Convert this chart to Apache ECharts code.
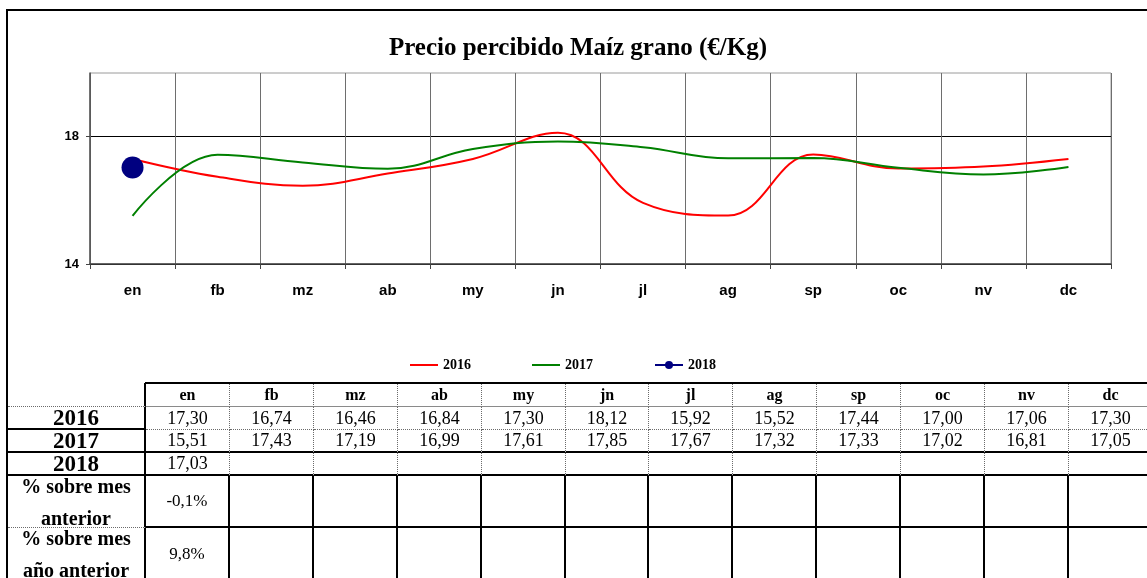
<!DOCTYPE html>
<html>
<head>
<meta charset="utf-8">
<title>Precio percibido Maíz grano</title>
<script src="https://cdn.jsdelivr.net/npm/echarts@6/dist/echarts.min.js"></script>
<style>
  html, body { margin: 0; padding: 0; background: #fff; }
  #wrap { position: relative; width: 1147px; height: 578px; overflow: hidden; background: #fff; }
  #chart { position: absolute; left: 0; top: 0; width: 1147px; height: 578px; }
  #frame { position: absolute; left: 6px; top: 9px; right: -10px; bottom: -10px;
           border-left: 2px solid #000; border-top: 2px solid #000; pointer-events: none; }
  .cell { position: absolute; box-sizing: border-box; display: flex; flex-direction: column;
          align-items: center; justify-content: center; color: #000; white-space: nowrap;
          text-align: center; font-family: 'Liberation Serif', 'Times New Roman', serif; }
</style>
</head>
<body>
<div id="wrap">
  <div id="chart"></div>
  <div id="tabla"></div>
  <div id="frame"></div>
</div>
<script>
// Meses y precios (€/Kg)
const meses = ['en', 'fb', 'mz', 'ab', 'my', 'jn', 'jl', 'ag', 'sp', 'oc', 'nv', 'dc'];
const precio2016 = [17.30, 16.74, 16.46, 16.84, 17.30, 18.12, 15.92, 15.52, 17.44, 17.00, 17.06, 17.30];
const precio2017 = [15.51, 17.43, 17.19, 16.99, 17.61, 17.85, 17.67, 17.32, 17.33, 17.02, 16.81, 17.05];
const precio2018 = [17.03];
const ejeYMarcas = [14, 18];

const fmt = (v, d) => v.toFixed(d).replace('.', ',');

// Variaciones del último mes de 2018
const n = precio2018.length - 1;
const previo = n === 0 ? precio2017[precio2017.length - 1] : precio2018[n - 1];
const pctMes = [];
const pctAnio = [];
pctMes[n] = fmt((precio2018[n] / previo - 1) * 100, 1) + '%';
pctAnio[n] = fmt((precio2018[n] / precio2017[n] - 1) * 100, 1) + '%';

const chart = echarts.init(document.getElementById('chart'), null, { renderer: 'canvas' });

// Icono de leyenda: trazo horizontal sin marcador
const iconoLinea = 'path://M0,0H28V2H0Z';
const lineaSuave = 0.4;

chart.setOption({
  animation: false,
  title: {
    text: 'Precio percibido Maíz grano (€/Kg)',
    left: 578, top: 36, textAlign: 'center', padding: 0,
    textStyle: { fontFamily: 'Liberation Serif', fontWeight: 'bold', fontSize: 25, color: '#000' }
  },
  legend: {
    left: 410, top: 358, itemWidth: 28, itemHeight: 10, itemGap: 61, padding: 0,
    data: [
      { name: '2016', icon: iconoLinea },
      { name: '2017', icon: iconoLinea },
      { name: '2018' }
    ],
    textStyle: { fontFamily: 'Liberation Serif', fontWeight: 'bold', fontSize: 14, color: '#000' }
  },
  grid: { left: 90, right: 36, top: 73, bottom: 314, show: true, borderColor: '#9a9a9a', borderWidth: 1 },
  xAxis: {
    type: 'category', data: meses, boundaryGap: true,
    axisLine: { lineStyle: { color: '#444', width: 1.5 } },
    axisTick: { show: true, length: 5, lineStyle: { color: '#444' } },
    axisLabel: { margin: 19, fontFamily: 'Liberation Sans', fontWeight: 'bold', fontSize: 15, color: '#000' },
    splitLine: { show: true, lineStyle: { color: '#6e6e6e', width: 1 } }
  },
  yAxis: {
    type: 'value', min: 14, max: 20,
    axisLine: { show: true, lineStyle: { color: '#555', width: 1.5 } },
    axisTick: { show: true, length: 4, customValues: ejeYMarcas, lineStyle: { color: '#444' } },
    axisLabel: { customValues: ejeYMarcas, margin: 11, fontFamily: 'Liberation Sans', fontWeight: 'bold', fontSize: 13, color: '#000' },
    splitLine: { show: true, lineStyle: { color: '#000', width: 1 } }
  },
  series: [
    { name: '2016', type: 'line', data: precio2016, smooth: lineaSuave, symbol: 'none',
      lineStyle: { color: '#ff0000', width: 2 }, itemStyle: { color: '#ff0000' } },
    { name: '2017', type: 'line', data: precio2017, smooth: lineaSuave, symbol: 'none',
      lineStyle: { color: '#008000', width: 2 }, itemStyle: { color: '#008000' } },
    { name: '2018', type: 'line', data: precio2018, symbol: 'circle', symbolSize: 22,
      lineStyle: { color: '#000080', width: 2 }, itemStyle: { color: '#000080' } }
  ]
});

// Tabla de datos bajo el gráfico
const tabla = document.getElementById('tabla');
const NEGRO = '2px solid #000';
const PUNTOS = '1px dotted #6a6a6a';
const GRIS = '1px solid #8a8a8a';
const xEtiq = 8, xDatos = 145, anchoCol = 83.9;
const filas = [
  { top: 383, h: 24, etiq: '', vals: meses, font: 'bold 16px', etiqFont: 'bold 23px',
    bEtiq: PUNTOS, bDatos: GRIS, rDatos: PUNTOS },
  { top: 407, h: 23, etiq: '2016', vals: precio2016.map(v => fmt(v, 2)), font: '18px', etiqFont: 'bold 23px',
    bEtiq: NEGRO, bDatos: PUNTOS, rDatos: PUNTOS },
  { top: 430, h: 23, etiq: '2017', vals: precio2017.map(v => fmt(v, 2)), font: '18px', etiqFont: 'bold 23px',
    bEtiq: NEGRO, bDatos: NEGRO, rDatos: PUNTOS },
  { top: 453, h: 23, etiq: '2018', vals: precio2018.map(v => fmt(v, 2)), font: '18px', etiqFont: 'bold 23px',
    bEtiq: NEGRO, bDatos: NEGRO, rDatos: PUNTOS },
  { top: 476, h: 52, etiq: '% sobre mes<br>anterior', vals: pctMes, font: '17px', etiqFont: 'bold 20px',
    bEtiq: PUNTOS, bDatos: NEGRO, rDatos: NEGRO },
  { top: 528, h: 52, etiq: '% sobre mes<br>año anterior', vals: pctAnio, font: '17px', etiqFont: 'bold 20px',
    bEtiq: 'none', bDatos: 'none', rDatos: NEGRO }
];

function celda(x, y, w, h, html, font, bottom, right, lh) {
  const d = document.createElement('div');
  d.className = 'cell';
  d.style.left = x + 'px';
  d.style.top = y + 'px';
  d.style.width = w + 'px';
  d.style.height = h + 'px';
  d.style.font = font + " 'Liberation Serif', 'Times New Roman', serif";
  if (lh) d.style.lineHeight = lh;
  d.style.borderBottom = bottom;
  d.style.borderRight = right;
  d.innerHTML = html;
  tabla.appendChild(d);
}

filas.forEach(f => {
  const dosLineas = f.etiq.indexOf('<br>') >= 0;
  celda(xEtiq, f.top, xDatos - xEtiq + 1, f.h, f.etiq, f.etiqFont, f.bEtiq, NEGRO, dosLineas ? '32px' : null);
  for (let i = 0; i < meses.length; i++) {
    const x0 = Math.round(xDatos + i * anchoCol);
    const x1 = Math.round(xDatos + (i + 1) * anchoCol);
    const v = f.vals[i] !== undefined ? f.vals[i] : '';
    celda(x0 + 1, f.top, x1 - x0, f.h, v, f.font, f.bDatos, f.rDatos);
  }
});

// Línea superior de la cabecera
const linea = document.createElement('div');
linea.style.cssText = 'position:absolute;left:145px;top:382px;width:1010px;height:2px;background:#000;';
tabla.appendChild(linea);
</script>
</body>
</html>
